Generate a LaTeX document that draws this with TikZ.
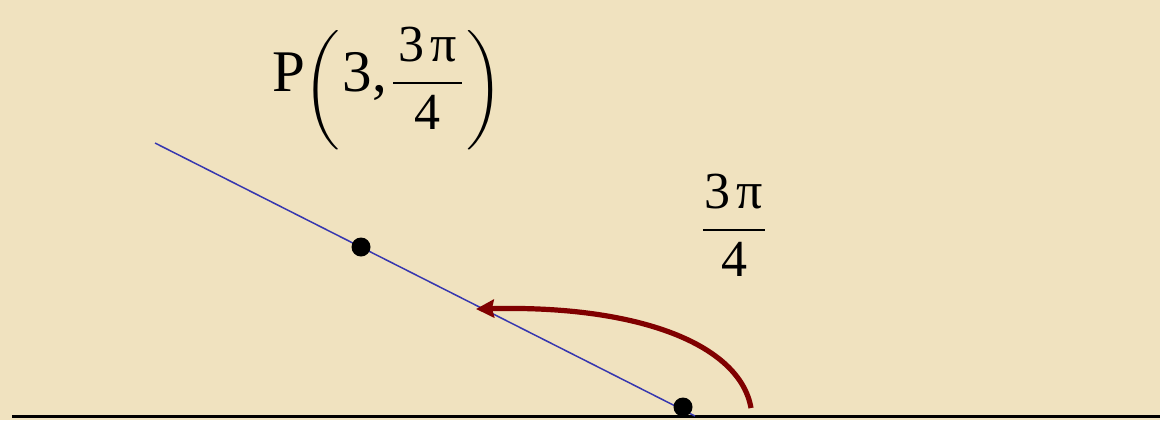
\documentclass[tikz,border=0pt]{standalone}
\usepackage{amsmath}
\usepackage{fontspec}
\setmainfont{Liberation Serif}
\usepackage{xcolor}
\usetikzlibrary{positioning,arrows.meta}
\definecolor{parchment}{RGB}{240,226,191}
\definecolor{raycol}{RGB}{55,55,175}
\definecolor{arccol}{RGB}{128,0,0}
\newcommand{\bigtxt}{\fontsize{29.5}{32}\selectfont}
\newcommand{\fractxt}{\fontsize{26}{28}\selectfont}
\newcommand{\angfrac}[1]{\fractxt$\dfrac{\hbox{\kern#1 3\kern3pt π\kern#1}}{\hbox{4}}$}
\tikzset{
  dot/.style={circle,fill=black,inner sep=0pt,minimum size=9.5pt},
  lbl/.style={inner sep=0pt,text=black},
  ray/.style={draw=raycol,line width=0.75pt},
  turn/.style={draw=arccol,line width=2.6pt,-{Stealth[length=9pt,width=9pt,inset=1pt]}},
}

\begin{document}
\begin{tikzpicture}[x=0.5pt,y=-0.5pt,>=Stealth]
  \fill[parchment] (0,0) rectangle (1160,420);
  \useasboundingbox (0,0) rectangle (1160,420);
  % polar axis and the ray through P
  \coordinate (axisL) at (12,416);
  \coordinate (axisR) at (1160,416);
  \coordinate (rayend) at (155,143);
  \coordinate (raytail) at (695,416);
  \draw[line width=1.5pt] (axisL) -- (axisR);
  \draw[ray] (rayend) -- (raytail);
  \node[dot] (pt) at (361,247) {};
  \node[dot] (pole) at (683,407) {};
  % angle arrow
  \coordinate (arcstart) at (751,408);
  \coordinate (arcend) at (476,309);
  \draw[turn] (arcstart) .. controls (740,345) and (640,305) .. (arcend);
  % labels
  \node[lbl,anchor=base west] (ptlabel) at (272,91)
    {\bigtxt P\kern-1pt\raisebox{-6pt}{$\biggl($}\kern1.5pt 3,\kern2pt\raisebox{-2pt}{\angfrac{2.5pt}}\kern1pt\raisebox{-6pt}{$\biggr)$}};
  \node[lbl] (anglabel) at (734,225) {\angfrac{1pt}};
\end{tikzpicture}
\end{document}
